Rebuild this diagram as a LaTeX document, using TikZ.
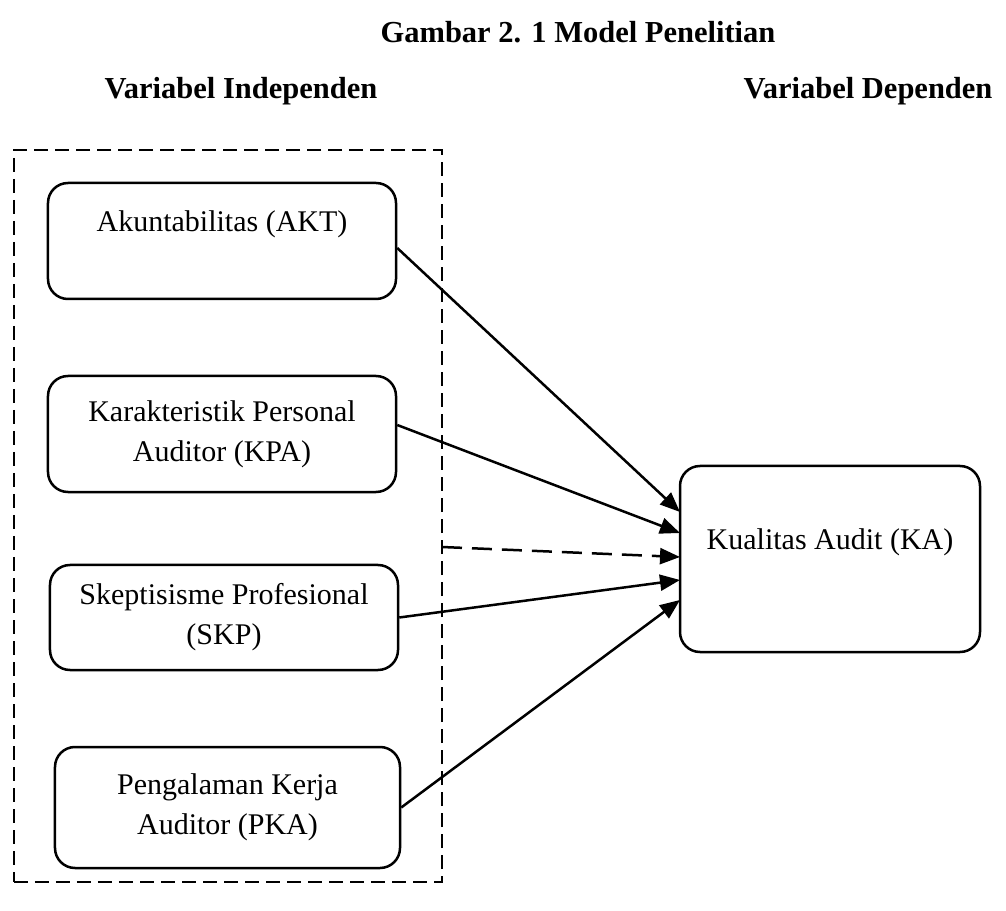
\documentclass[tikz,border=0pt]{standalone}
\usepackage{fontspec}
\setmainfont{Liberation Serif}
\usetikzlibrary{arrows.meta}

\tikzset{
  varbox/.style={draw, line width=1pt, rounded corners=8pt, align=center, inner sep=0pt},
  heading/.style={font=\fontsize{12.2}{16}\selectfont\bfseries, anchor=base},
  link/.style={->, line width=1pt},
}

\begin{document}
\begin{tikzpicture}[x=0.4pt, y=-0.4pt, >={Triangle[length=8pt,width=6.4pt]},
    font=\fontsize{12}{16}\selectfont]

    \useasboundingbox (0,0) rectangle (1006,911);

    % --- Headings ---
    \node[heading] (title) at (578,43) {Gambar 2. 1 Model Penelitian};
    \node[heading] (indephead) at (241,99) {Variabel Independen};
    \node[heading] (dephead) at (868,99) {Variabel Dependen};

    % --- Frame round the independent variables ---
    \node[draw, dash pattern=on 5.6pt off 2.8pt, line width=1pt, inner sep=0pt,
          minimum width=171.2pt, minimum height=292.8pt] (indep) at (228,516) {};

    % --- Variables ---
    \node[varbox, minimum width=139.2pt, minimum height=46.4pt] (akt) at (222,241)
        {Akuntabilitas (AKT)\\\mbox{}};
    \node[varbox, minimum width=139.2pt, minimum height=46.4pt] (kpa) at (222,434)
        {Karakteristik Personal\\Auditor (KPA)};
    \node[varbox, minimum width=139.2pt, minimum height=42pt] (skp) at (224,617.5)
        {Skeptisisme Profesional\\(SKP)};
    \node[varbox, minimum width=138pt, minimum height=48.4pt] (pka) at (227.5,807.5)
        {Pengalaman Kerja\\Auditor (PKA)};
    \node[varbox, minimum width=120pt, minimum height=74.4pt] (ka) at (830,559)
        {Kualitas Audit (KA)\\\mbox{}};

    % --- Arrow ends on the dependent box ---
    \coordinate (ka1) at (680,512);
    \coordinate (ka2) at (680,533);
    \coordinate (ka3) at (680,557);
    \coordinate (ka4) at (680,580);
    \coordinate (ka5) at (680,600);
    \coordinate (mod) at (442,547);

    % --- Links ---
    \draw[link] ([yshift=-7*0.4pt]akt.east) -- (ka1);
    \draw[link] ([yshift=9*0.4pt]kpa.east) -- (ka2);
    \draw[link, dash pattern=on 8pt off 4pt] (mod) -- (ka3);
    \draw[link] (skp.east) -- (ka4);
    \draw[link] (pka.east) -- (ka5);

\end{tikzpicture}
\end{document}
